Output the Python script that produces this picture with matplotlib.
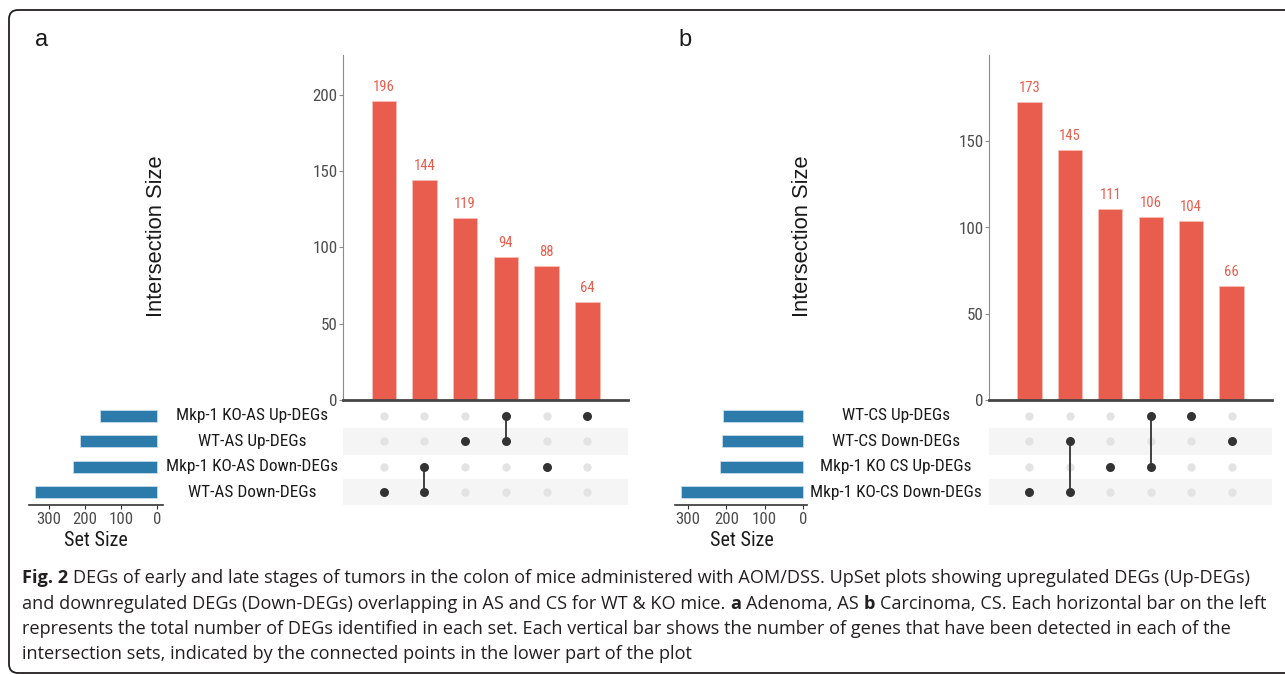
import matplotlib.pyplot as plt
from matplotlib import font_manager
from matplotlib.patches import FancyBboxPatch
from matplotlib.transforms import Affine2D, blended_transform_factory

# Figure size in pixels (dpi 100)
W, H = 1285, 674

names = {f.name for f in font_manager.fontManager.ttflist}


def pick(cands, fallback):
    for c in cands:
        if c in names:
            return c
    return fallback


REG = 'Liberation Sans'
NARROW = pick(['Liberation Sans Narrow', 'Arial Narrow', 'Roboto Condensed', 'Archivo Narrow',
               'PT Sans Narrow'], REG)
CAPFONT = 'Open Sans'

BAR_RED = '#e95d4e'
SET_BLUE = '#2d7bab'
DOT_ON = '#333333'
DOT_OFF = '#e3e3e3'
STRIPE = '#f5f5f5'
TICK_GRAY = '#4d4d4d'

# Panel a: adenoma stage (AS)
sets_a = ["Mkp-1 KO-AS Up-DEGs", "WT-AS Up-DEGs", "Mkp-1 KO-AS Down-DEGs", "WT-AS Down-DEGs"]
set_size_a = [158, 213, 232, 340]
inter_a = [196, 144, 119, 94, 88, 64]
members_a = [[3], [2, 3], [1], [0, 1], [2], [0]]  # row indices of the sets in each intersection

# Panel b: carcinoma stage (CS)
sets_b = ["WT-CS Up-DEGs", "WT-CS Down-DEGs", "Mkp-1 KO CS Up-DEGs", "Mkp-1 KO-CS Down-DEGs"]
set_size_b = [210, 211, 217, 318]
inter_b = [173, 145, 111, 106, 104, 66]
members_b = [[3], [1, 3], [2], [0, 2], [0], [1]]

caption_lines = [
    [("Fig. 2", "bold"), ("DEGs of early and late stages of tumors in the colon of mice administered with AOM/DSS. UpSet plots showing upregulated DEGs (Up-DEGs)", "normal")],
    [("and downregulated DEGs (Down-DEGs) overlapping in AS and CS for WT & KO mice.", "normal"), ("a", "bold"),
     ("Adenoma, AS", "normal"), ("b", "bold"), ("Carcinoma, CS. Each horizontal bar on the left", "normal")],
    [("represents the total number of DEGs identified in each set. Each vertical bar shows the number of genes that have been detected in each of the", "normal")],
    [("intersection sets, indicated by the connected points in the lower part of the plot", "normal")],
]

fig = plt.figure(figsize=(W / 100, H / 100), dpi=100)
renderer = fig.canvas.get_renderer()


def text_width(s, size, family, weight='normal', rotation=0):
    t = fig.text(0, 0, s, fontsize=size, family=family, fontweight=weight, rotation=rotation)
    bb = t.get_window_extent(renderer)
    t.remove()
    return bb.height if rotation else bb.width


def fit(s, target, family, weight='normal', rotation=0):
    return 10 * target / text_width(s, 10, family, weight, rotation)


# font sizes chosen so key texts span the same pixels as in the reference
FS_SET = fit("Mkp-1 KO-AS Down-DEGs", 172, NARROW)
FS_TICK = fit("150", 25, NARROW)
FS_NUM = fit("196", 21.5, NARROW)
FS_SS = fit("Set Size", 63, NARROW)
FS_SSTICK = fit("300", 24.5, NARROW)
FS_YLAB = fit("Intersection Size", 162, REG, rotation=90)


def px_axes(left, top, right, bottom):
    ax = fig.add_axes([left / W, 1 - bottom / H, (right - left) / W, (bottom - top) / H])
    ax.patch.set_alpha(0)
    return ax


def draw_upset(sets, sizes, inter, members, ymax, yticks, g):
    n = len(inter)
    idx = list(range(n))

    # intersection size bars
    ax = px_axes(g['x0'], 55, g['x1'], 400)
    ax.bar(idx, inter, width=0.6, color=BAR_RED, edgecolor='#f6c0b8', linewidth=0.5)
    for i, v in zip(idx, inter):
        ax.annotate(str(v), (i, v), xytext=(0, 5), textcoords='offset points',
                    ha='center', va='bottom', color=BAR_RED, fontsize=FS_NUM, family=NARROW)
    ax.set_xlim(-1, n)
    ax.set_ylim(0, ymax)
    ax.set_yticks(yticks)
    ax.set_xticks([])
    for s in ['top', 'right']:
        ax.spines[s].set_visible(False)
    ax.spines['left'].set_color('#8c8c8c')
    ax.spines['left'].set_linewidth(0.8)
    ax.spines['bottom'].set_color('#444444')
    ax.spines['bottom'].set_linewidth(2)
    ax.tick_params(axis='y', length=3, width=0.8, color='#8c8c8c', labelcolor=TICK_GRAY, pad=1)
    for lab in ax.get_yticklabels():
        lab.set_family(NARROW)
        lab.set_fontsize(FS_TICK)
    fig.text(g['ylab_x'] / W, 1 - 236 / H, "Intersection Size", rotation=90,
             ha='center', va='center', fontsize=FS_YLAB, family=REG, color='#1a1a1a')

    # matrix of dots
    axm = px_axes(g['x0'], 403, g['x1'], 505)
    axm.set_xlim(-1, n)
    axm.set_ylim(len(sets) - 0.5, -0.5)
    for r in range(len(sets)):
        if r % 2 == 1:
            axm.axhspan(r - 0.5, r + 0.5, color=STRIPE, zorder=0)
    for c in idx:
        axm.scatter([c] * len(sets), range(len(sets)), s=36, color=DOT_OFF, zorder=2, linewidths=0)
        rows = members[c]
        if len(rows) > 1:
            axm.plot([c, c], [min(rows), max(rows)], color=DOT_ON, lw=1.3, zorder=3)
        axm.scatter([c] * len(rows), rows, s=42, color=DOT_ON, zorder=4, linewidths=0)
    axm.axis('off')

    # set names between the two lower panels
    tr = blended_transform_factory(fig.transFigure, axm.transData)
    for r, name in enumerate(sets):
        axm.text(g['lab_x'] / W, r, name, transform=tr, ha='center', va='center',
                 fontsize=FS_SET, family=NARROW, color='#1a1a1a', zorder=10)

    # set size bars
    axs = px_axes(g['s0'], 403, g['s1'], 505)
    axs.barh(range(len(sets)), sizes, height=0.48, color=SET_BLUE, edgecolor='#cfe0ec', linewidth=0.5)
    axs.set_ylim(len(sets) - 0.5, -0.5)
    axs.set_xlim(g['sx_max'], g['sx_min'])
    axs.set_xticks([300, 200, 100, 0])
    axs.set_yticks([])
    for s in ['top', 'right', 'left']:
        axs.spines[s].set_visible(False)
    axs.spines['bottom'].set_color('#333333')
    axs.spines['bottom'].set_linewidth(1.2)
    axs.tick_params(axis='x', length=3, width=0.8, color='#333333', labelcolor=TICK_GRAY, pad=2)
    for lab in axs.get_xticklabels():
        lab.set_family(NARROW)
        lab.set_fontsize(FS_SSTICK)
    fig.text(g['sl_x'] / W, 1 - 541 / H, "Set Size", ha='center', va='center',
             fontsize=FS_SS, family=NARROW, color='#1a1a1a')


# rounded frame around the whole figure (right edge runs off the picture)
px = Affine2D().scale(1 / W, 1 / H) + fig.transFigure
frame = FancyBboxPatch((9, 1), 1320, H - 11, boxstyle='round,pad=0,rounding_size=9',
                       transform=px, facecolor='none', edgecolor='#231f20', linewidth=1.3, clip_on=False)
fig.patches.append(frame)

geom_a = dict(x0=343, x1=628, ylab_x=157, lab_x=252, s0=29, s1=163, sx_max=355.6, sx_min=-16.7, sl_x=96)
geom_b = dict(x0=989, x1=1272, ylab_x=802, lab_x=896, s0=675, s1=807, sx_max=334, sx_min=-10.5, sl_x=742)

draw_upset(sets_a, set_size_a, inter_a, members_a, 226, [0, 50, 100, 150, 200], geom_a)
draw_upset(sets_b, set_size_b, inter_b, members_b, 200, [0, 50, 100, 150], geom_b)

fig.text(35 / W, 1 - 40 / H, "a", ha='left', va='center', fontsize=17, family=REG, color='#1a1a1a')
fig.text(678 / W, 1 - 40 / H, "b", ha='left', va='center', fontsize=17, family=REG, color='#1a1a1a')


# caption: runs of normal / bold text, sized so the two long lines end near x=1263
def line_width(runs, size):
    gap = text_width("a a", size, CAPFONT) - text_width("aa", size, CAPFONT)
    return sum(text_width(s, size, CAPFONT, wt) for s, wt in runs) + gap * (len(runs) - 1)


cap_size = 12.0
cap_size *= min(1241 / line_width(caption_lines[0], cap_size), 1241 / line_width(caption_lines[1], cap_size))
gap = text_width("a a", cap_size, CAPFONT) - text_width("aa", cap_size, CAPFONT)

baselines = [583, 609, 634, 659]
for runs, yb in zip(caption_lines, baselines):
    x = 22
    for s, wt in runs:
        t = fig.text(x / W, 1 - yb / H, s, ha='left', va='baseline', fontsize=cap_size,
                     family=CAPFONT, fontweight=wt, color='#231f20')
        x += t.get_window_extent(renderer).width + gap

fig.savefig("out.png", dpi=100)
